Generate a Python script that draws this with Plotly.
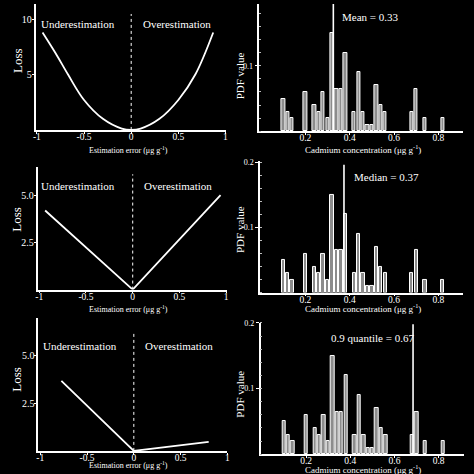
import plotly.graph_objects as go

W = 474
FONT = "Liberation Serif"

# ---- data ----
quad_err = [-0.94, -0.8, -0.67, -0.5, -0.3, -0.1, 0.0, 0.1, 0.3, 0.5, 0.68, 0.87]
quad_loss = [8.8, 6.9, 5.0, 2.7, 1.0, 0.12, 0.0, 0.12, 1.0, 2.7, 5.0, 8.8]

abs_err = [-0.937, 0.0, 0.94]
abs_loss = [4.22, 0.0, 5.04]

lin_err = [-0.774, 0.0, 0.80]
lin_loss = [3.69, 0.0, 0.48]

bin_centers = [0.10, 0.12, 0.14, 0.20, 0.24, 0.26, 0.28, 0.30, 0.32, 0.34, 0.36, 0.38,
               0.42, 0.44, 0.46, 0.48, 0.50, 0.52, 0.54, 0.56, 0.68, 0.70, 0.74, 0.82]
pdf_values = [0.05, 0.03, 0.02, 0.06, 0.04, 0.03, 0.06, 0.02, 0.15, 0.065, 0.065, 0.12,
              0.03, 0.09, 0.03, 0.01, 0.01, 0.07, 0.04, 0.03, 0.03, 0.065, 0.02, 0.02]

mean_val, mean_top = 0.326, 0.2
median_val, median_top = 0.374, 0.196
quant_val, quant_top = 0.684, 0.198

loss_ticks_top = [5, 10]
loss_ticktext_top = ["5", "10"]
loss_ticks = [2.5, 5.0]
loss_ticktext = ["2.5", "5.0"]
err_ticks = [-1, -0.5, 0, 0.5, 1]
err_ticktext = ["-1", "-0.5", "0", "0.5", "1"]
cd_ticks = [0.2, 0.4, 0.6, 0.8]
cd_ticktext = ["0.2", "0.4", "0.6", "0.8"]
pdf_ticks = [0.1, 0.2]
pdf_ticktext = ["0.1", "0.2"]

dot_tops = [10.47, 6.15, 6.17]


def px_x(p):
    return p / W


def px_y(p):
    return 1 - p / W


fig = go.Figure()

line_style = dict(color="white", width=1.8)
# Left panels
fig.add_trace(go.Scatter(x=quad_err, y=quad_loss, mode="lines", line=dict(shape="spline", **line_style),
                         xaxis="x", yaxis="y", showlegend=False))
fig.add_trace(go.Scatter(x=abs_err, y=abs_loss, mode="lines", line=line_style,
                         xaxis="x3", yaxis="y3", showlegend=False))
fig.add_trace(go.Scatter(x=lin_err, y=lin_loss, mode="lines", line=line_style,
                         xaxis="x5", yaxis="y5", showlegend=False))
for ax, top in zip(["", "3", "5"], dot_tops):
    fig.add_trace(go.Scatter(x=[0, 0], y=[0, top], mode="lines",
                             line=dict(color="white", width=1, dash="dot"),
                             xaxis="x" + ax, yaxis="y" + ax, showlegend=False))

# Right panels
for ax, (v, top) in zip(["2", "4", "6"], [(mean_val, mean_top), (median_val, median_top), (quant_val, quant_top)]):
    fig.add_trace(go.Bar(x=bin_centers, y=pdf_values, width=0.015,
                         marker=dict(color="#8c8c8c", line=dict(color="white", width=1)),
                         xaxis="x" + ax, yaxis="y" + ax, showlegend=False))
    fig.add_trace(go.Scatter(x=[v, v], y=[0, top], mode="lines",
                             line=dict(color="white", width=1.6),
                             xaxis="x" + ax, yaxis="y" + ax, showlegend=False))

base = dict(showline=True, linecolor="white", linewidth=1.5, showgrid=False, zeroline=False,
            ticks="outside", tickcolor="white", tickwidth=1)
xcommon = dict(ticklen=2, ticklabelstandoff=-5,
               tickfont=dict(family=FONT, size=9.5, color="white"), **base)
ylcommon = dict(ticklen=2, ticklabelstandoff=-2,
                tickfont=dict(family=FONT, size=10, color="white"), **base)
yrcommon = dict(ticklen=3, ticklabelstandoff=0,
                tickfont=dict(family=FONT, size=8, color="white"),
                minor=dict(dtick=0.02, ticks="inside", ticklen=2, tickcolor="#bbbbbb"), **base)

layout = dict(
    width=W, height=W,
    paper_bgcolor="black", plot_bgcolor="black",
    margin=dict(l=0, r=0, t=0, b=0),
    bargap=0,
    font=dict(family=FONT, color="white"),
    # top-left
    xaxis=dict(domain=[px_x(33), px_x(226)], range=[-1.014, 1.007], anchor="y",
               tickvals=err_ticks, ticktext=err_ticktext, **xcommon),
    yaxis=dict(domain=[px_y(127), 1.0], range=[0, 11.37], anchor="x",
               tickvals=loss_ticks_top, ticktext=loss_ticktext_top, **ylcommon),
    # top-right
    xaxis2=dict(domain=[px_x(259.7), px_x(466.3)], range=[-0.0076, 0.913], anchor="y2",
                tickvals=cd_ticks, ticktext=cd_ticktext, **xcommon),
    yaxis2=dict(domain=[px_y(128.3), 1.0], range=[0, 0.1944], anchor="x2",
                tickvals=pdf_ticks, ticktext=pdf_ticktext, **yrcommon),
    # middle-left
    xaxis3=dict(domain=[px_x(35), px_x(226.5)], range=[-1.018, 1.005], anchor="y3",
                tickvals=err_ticks, ticktext=err_ticktext, **xcommon),
    yaxis3=dict(domain=[px_y(288), px_y(164)], range=[0, 6.56], anchor="x3",
                tickvals=loss_ticks, ticktext=loss_ticktext, **ylcommon),
    # middle-right
    xaxis4=dict(domain=[px_x(260.3), px_x(466.3)], range=[-0.005, 0.913], anchor="y4",
                tickvals=cd_ticks, ticktext=cd_ticktext, **xcommon),
    yaxis4=dict(domain=[px_y(291), px_y(158.3)], range=[0, 0.202], anchor="x4",
                tickvals=pdf_ticks, ticktext=pdf_ticktext, **yrcommon),
    # bottom-left
    xaxis5=dict(domain=[px_x(35.7), px_x(227.3)], range=[-1.021, 1.0], anchor="y5",
                tickvals=err_ticks, ticktext=err_ticktext, **xcommon),
    yaxis5=dict(domain=[px_y(450.7), px_y(316.7)], range=[0, 7.0], anchor="x5",
                tickvals=loss_ticks, ticktext=loss_ticktext, **ylcommon),
    # bottom-right
    xaxis6=dict(domain=[px_x(261), px_x(467)], range=[-0.0054, 0.915], anchor="y6",
                tickvals=cd_ticks, ticktext=cd_ticktext, **xcommon),
    yaxis6=dict(domain=[px_y(454), px_y(321.7)], range=[0, 0.2], anchor="x6",
                tickvals=pdf_ticks, ticktext=pdf_ticktext, **yrcommon),
)
fig.update_layout(**layout)

ann = []


def add_text(text, xp, yp, size, xanchor="center", angle=0):
    ann.append(dict(text=text, x=px_x(xp), y=px_y(yp), xref="paper", yref="paper",
                    xanchor=xanchor, yanchor="middle", showarrow=False, textangle=angle,
                    font=dict(family=FONT, size=size, color="white")))


for (ux, uy), (ox, oy) in [((75.8, 20), (176.5, 20)), ((76.3, 183.3), (176.8, 183.3)),
                           ((77.5, 345), (178, 345))]:
    add_text("Underestimation", ux, uy, 11)
    add_text("Overestimation", ox, oy, 11)

for ly in [56.7, 216.7, 378]:
    add_text("Loss", 14, ly, 13, angle=-90)
for py in [72, 227, 393]:
    add_text("PDF value", 240, py, 11, angle=-90)

for ey in [147, 308, 465]:
    add_text("Estimation error (μg g<sup>-1</sup>)", 127, ey, 8)
for cy in [146, 307, 469]:
    add_text("Cadmium concentration (μg g<sup>-1</sup>)", 365, cy, 9)

add_text("Mean = 0.33", 341, 13.3, 11, xanchor="left")
add_text("Median = 0.37", 353.7, 174.7, 11, xanchor="left")
add_text("0.9 quantile = 0.67", 329.7, 337.3, 11, xanchor="left")

fig.update_layout(annotations=ann)
fig.write_html("out.html", config={"displayModeBar": False},
               post_script="document.body.style.margin='0';document.body.style.overflow='hidden';")
